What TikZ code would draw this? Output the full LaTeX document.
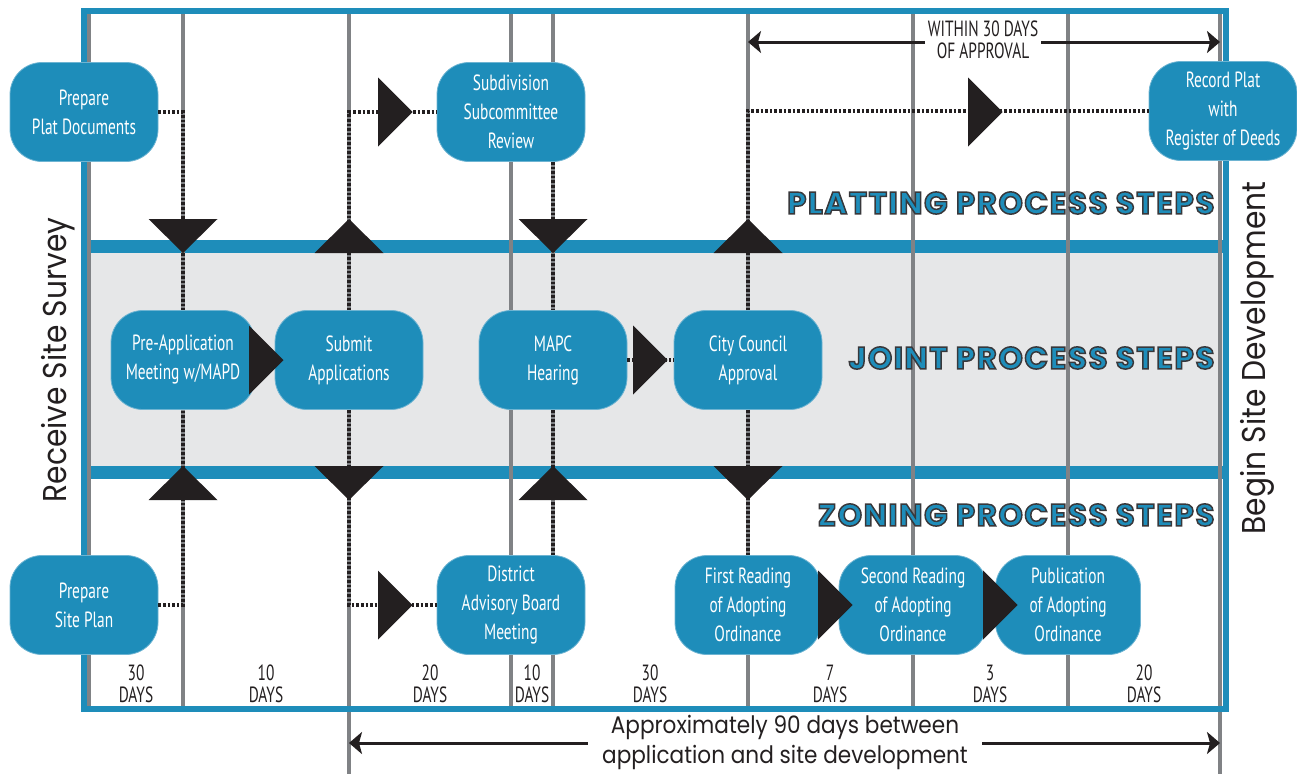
\documentclass[tikz,border=0pt]{standalone}
\usepackage{fontspec}
\usepackage{xcolor}
\usetikzlibrary{arrows.meta,positioning,calc}

\setmainfont{PT Sans}
\newfontfamily\condfont[FakeStretch=0.7]{PT Sans}
\newfontfamily\geofont[FakeStretch=0.9]{Poppins}
\newfontfamily\headfont[LetterSpace=5]{Poppins}

\definecolor{stepblue}{RGB}{30,141,186}
\definecolor{stepedge}{RGB}{110,180,210}
\definecolor{bandgray}{RGB}{230,231,232}
\definecolor{gridgray}{RGB}{128,130,133}
\definecolor{tipblack}{RGB}{35,31,32}

\newcommand\outlined[1]{\special{pdf:literal direct 2 Tr 1.5 w 0.22 0.22 0.23 RG}#1\special{pdf:literal direct 0 Tr}}

\begin{document}
\begin{tikzpicture}[
    x=1pt, y=-1pt,
    stepbox/.style={draw=stepedge, line width=0.8pt, fill=stepblue, rounded corners=32pt,
        minimum width=148pt, minimum height=99pt, align=center, text=white,
        font=\condfont\fontsize{22}{29}\selectfont},
    link/.style={draw=tipblack, line width=4pt, dash pattern=on 2.6pt off 2pt},
    timeline/.style={draw=gridgray, line width=4pt},
    tri/.style={fill=tipblack},
    dim/.style={draw=tipblack, line width=3pt, -{Stealth[length=13pt,width=22pt,inset=3pt]}},
    days/.style={align=center, text=tipblack, font=\condfont\fontsize{22}{22}\selectfont},
    heading/.style={anchor=east, text=stepblue, font=\headfont\bfseries\fontsize{31}{31}\selectfont},
    side/.style={rotate=90, text=tipblack, font=\geofont\fontsize{33}{33}\selectfont}
]
    \useasboundingbox (0,0) rectangle (1297,774);

    \fill[bandgray] (87,253) rectangle (1224,466);
    \fill[stepblue] (87,240) rectangle (1224,253);
    \fill[stepblue] (87,466) rectangle (1224,479);

    \foreach \x in {89,183,511,553,748,913,1068}
        \draw[timeline] (\x,13) -- (\x,707);
    \foreach \x in {349,1220}
        \draw[timeline] (\x,13) -- (\x,774);
    \draw[stepblue, line width=5.5pt] (84,11) rectangle (1226,709);

    \node[stepbox] (plat) at (84,112) {Prepare\\Plat Documents};
    \node[stepbox] (subdiv) at (511,112) {Subdivision\\Subcommittee\\Review};
    \node[stepbox] (record) at (1223,111) {Record Plat\\with\\Register of Deeds};
    \node[stepbox, minimum width=144pt] (preapp) at (183,360) {Pre-Application\\Meeting w/MAPD};
    \node[stepbox] (submit) at (349,360) {Submit\\Applications};
    \node[stepbox] (mapc) at (553,360) {MAPC\\Hearing};
    \node[stepbox] (council) at (748,360) {City Council\\Approval};
    \node[stepbox] (site) at (84,605) {Prepare\\Site Plan};
    \node[stepbox] (district) at (511,605) {District\\Advisory Board\\Meeting};
    \node[stepbox, minimum width=146pt] (first) at (748,605) {First Reading\\of Adopting\\Ordinance};
    \node[stepbox] (second) at (913,605) {Second Reading\\of Adopting\\Ordinance};
    \node[stepbox, minimum width=145pt] (publish) at (1068,605) {Publication\\of Adopting\\Ordinance};

    \draw[link] (plat.east) -| (preapp.north);
    \draw[link] (site.east) -| (preapp.south);
    \draw[link] (preapp) -- (submit);
    \draw[link] (submit.north) |- (subdiv.west);
    \draw[link] (submit.south) |- (district.west);
    \draw[link] (subdiv.south -| mapc.north) -- (mapc.north);
    \draw[link] (district.north -| mapc.south) -- (mapc.south);
    \draw[link] (mapc) -- (council);
    \draw[link] (council.north) |- (record.west);
    \draw[link] (council.south) -- (first.north);
    \draw[link] (first) -- (second);
    \draw[link] (second) -- (publish);

    \foreach \x in {183,553}
        \fill[tri] (\x-34.5,219) -- (\x+34.5,219) -- (\x,253) -- cycle;
    \foreach \x in {349,748}
        \fill[tri] (\x-34.5,253) -- (\x+34.5,253) -- (\x,219) -- cycle;
    \foreach \x in {183,553}
        \fill[tri] (\x-34.5,500) -- (\x+34.5,500) -- (\x,466) -- cycle;
    \foreach \x in {349,748}
        \fill[tri] (\x-34.5,466) -- (\x+34.5,466) -- (\x,500) -- cycle;
    \foreach \x/\y in {378/112,968/112,249/360,633/360,378/605,818/605,983/605}
        \fill[tri] (\x,\y-34.5) -- (\x,\y+34.5) -- (\x+34.5,\y) -- cycle;

    \node[heading] (platting) at (1218,203) {\outlined{PLATTING PROCESS STEPS}};
    \node[heading] (joint) at (1218,358) {\outlined{JOINT PROCESS STEPS}};
    \node[heading] (zoning) at (1218,515) {\outlined{ZONING PROCESS STEPS}};

    \node[side] (survey) at (58,360) {Receive Site Survey};
    \node[side] (develop) at (1257,358) {Begin Site Development};

    \foreach \x/\n in {136/30,266/10,430/20,532/10,650/30,830/7,990/3,1144/20}
        \node[days] (d\x) at (\x,684) {\n\\DAYS};

    \node[days, fill=white, inner xsep=3pt, inner ysep=0pt] (within) at (983,40) {WITHIN 30 DAYS\\OF APPROVAL};
    \coordinate (wleft) at (748,42);
    \coordinate (wright) at (1220,42);
    \draw[dim] (within.west |- wleft) -- (wleft);
    \draw[dim] (within.east |- wright) -- (wright);

    \node[align=center, text=tipblack, inner xsep=14pt, font=\geofont\fontsize{24}{30}\selectfont] (approx) at (785,742) {Approximately 90 days between\\application and site development};
    \coordinate (aleft) at (349,743);
    \coordinate (aright) at (1220,743);
    \draw[dim] (approx.west |- aleft) -- (aleft);
    \draw[dim] (approx.east |- aright) -- (aright);
\end{tikzpicture}
\end{document}
